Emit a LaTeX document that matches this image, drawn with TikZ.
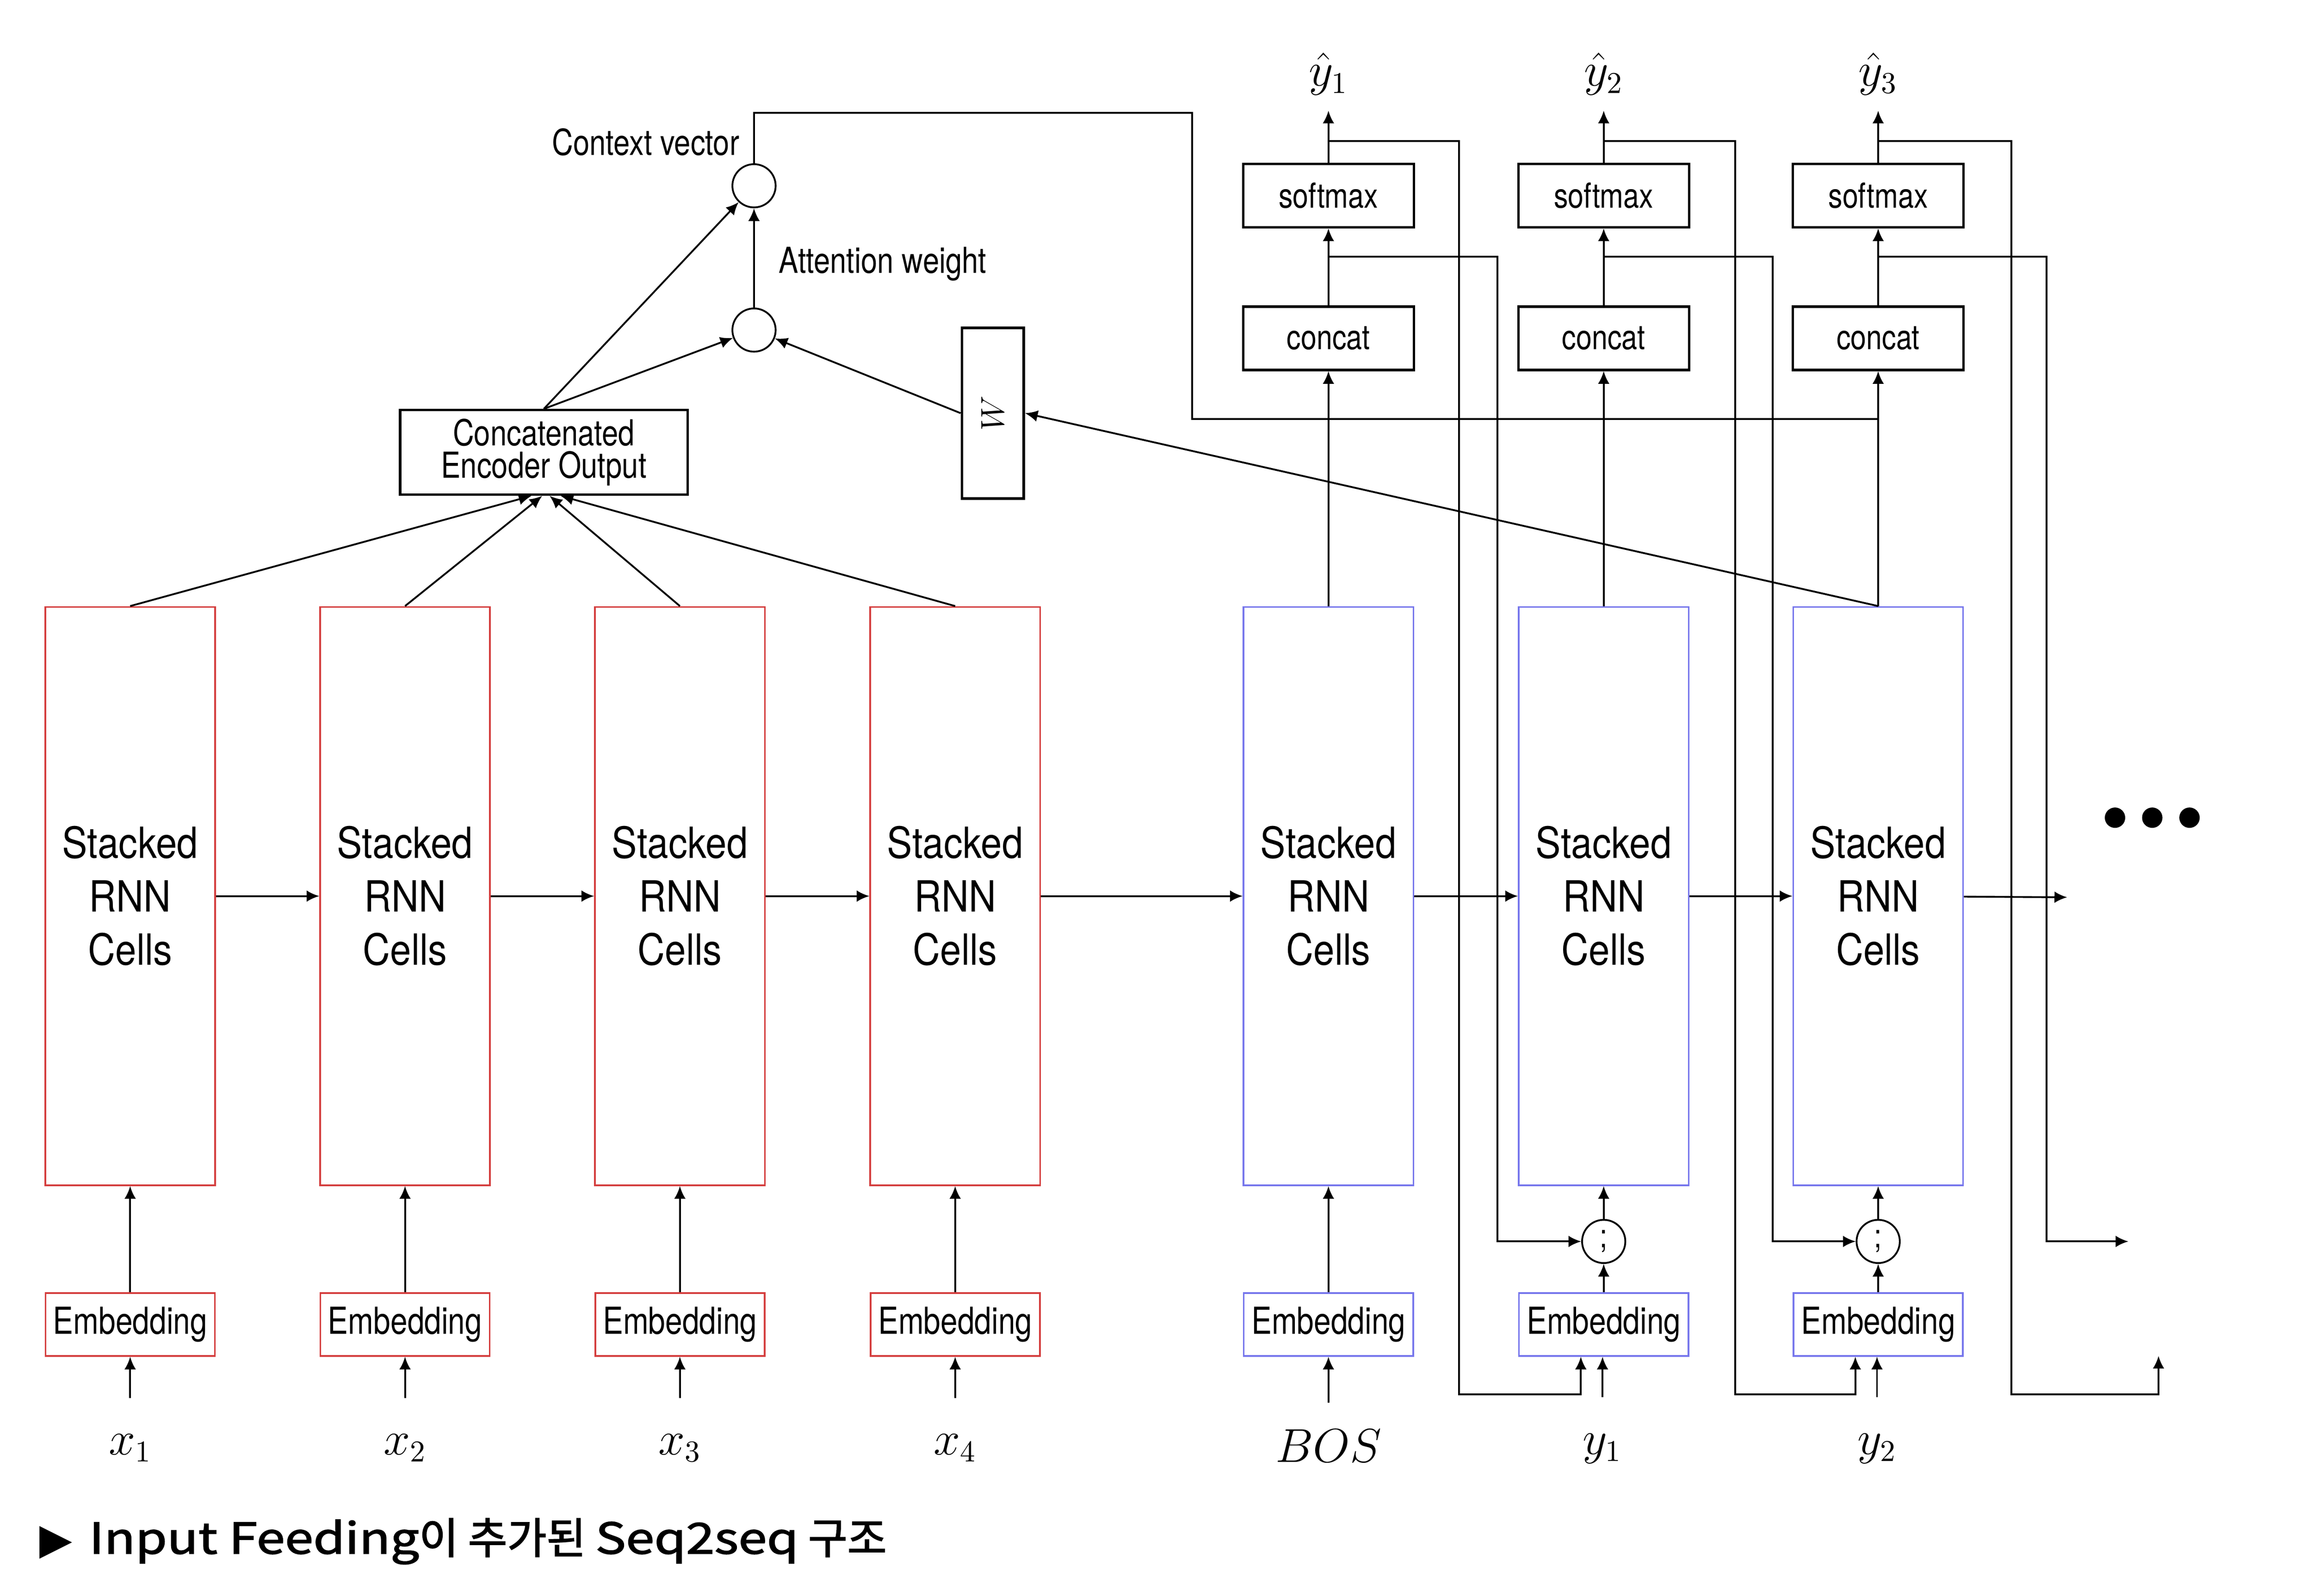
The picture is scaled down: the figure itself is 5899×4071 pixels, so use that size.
\documentclass[tikz,border=0pt]{standalone}
\usepackage{fontspec}
\setsansfont{TeX Gyre Heros}[FakeStretch=0.82]
\newfontfamily\cellfont{TeX Gyre Heros}[FakeStretch=0.88]
\newfontfamily\krfont{Noto Sans CJK KR}[FakeBold=2]
\newfontfamily\krlatin{Noto Sans CJK KR}[FakeStretch=1.2,FakeBold=2]
\newfontfamily\symfont{DejaVu Sans}
\usetikzlibrary{arrows.meta}
\definecolor{encred}{RGB}{212,62,62}
\definecolor{decblue}{RGB}{118,118,236}

\begin{document}
\begin{tikzpicture}
	[x=0.005cm,y=-0.005cm,
	arr/.style={-{Latex[length=4.6pt,width=4.2pt]},line width=0.65pt},
	cell/.style={draw,line width=0.6pt,minimum width=61.7pt,minimum height=210.1pt,inner sep=0pt,align=center,font={\cellfont\fontsize{15.6pt}{19.4pt}\selectfont}},
	emb/.style={draw,line width=0.6pt,minimum width=61.5pt,minimum height=22.8pt,inner sep=0pt,font={\sffamily\fontsize{13.5pt}{16pt}\selectfont}},
	blk/.style={draw,line width=0.9pt,minimum width=62pt,minimum height=23pt,inner sep=0pt,font={\sffamily\fontsize{12.5pt}{15pt}\selectfont}},
	dot/.style={draw,circle,line width=0.65pt,minimum size=15.7pt,inner sep=0pt},
	lbl/.style={inner sep=0pt,font={\sffamily\fontsize{13pt}{15pt}\selectfont}},
	var/.style={inner sep=0pt,font={\fontsize{16pt}{19pt}\selectfont}}]
	\useasboundingbox (0,0) rectangle (5899,4071);

	\foreach \i/\x in {1/332,2/1033,3/1734,4/2436}
	{
		\node[cell,draw=encred] (enc\i) at (\x,2286) {Stacked\\RNN\\Cells};
		\node[emb,draw=encred] (ee\i) at (\x,3379) {Embedding};
		\node[var,minimum height=36pt] (x\i) at (\x,3694) {$x_\i$};
		\draw[arr] (x\i) -- (ee\i);
		\draw[arr] (ee\i) -- (enc\i);
	}

	\foreach \i/\x in {1/3388,2/4090,3/4790}
	{
		\node[cell,draw=decblue] (dec\i) at (\x,2286) {Stacked\\RNN\\Cells};
		\node[emb,draw=decblue] (de\i) at (\x,3379) {Embedding};
		\node[blk] (cc\i) at (\x,863) {concat};
		\node[blk] (sm\i) at (\x,499) {softmax};
		\node[var,minimum height=26.2pt] (yh\i) at (\x,189) {$\hat{y}_\i$};
		\draw[arr] (dec\i) -- (cc\i);
		\draw[arr] (cc\i) -- (sm\i);
		\draw[arr] (sm\i) -- (yh\i);
		\coordinate (so\i) at (\x,360);
		\coordinate (co\i) at (\x,655);
	}

	\foreach \a/\b in {enc1/enc2,enc2/enc3,enc3/enc4,enc4/dec1,dec1/dec2,dec2/dec3}
		\draw[arr] (\a) -- (\b);
	\coordinate (rnnout) at (5272,2289);
	\draw[arr] (dec3) -- (rnnout);

	\node[draw,line width=0.9pt,minimum width=104.4pt,minimum height=30.7pt,inner sep=0pt,align=center,font={\sffamily\fontsize{13pt}{11.7pt}\selectfont}] (ceo) at (1387,1154) {Concatenated\\Encoder Output};
	\foreach \i/\s in {1/-4.5,2/-0.6,3/2.1,4/6.1}
		\draw[arr] (enc\i.north) -- ([xshift=\s pt]ceo.south);

	\node[dot] (att) at (1923,842) {};
	\node[dot] (ctx) at (1923,474) {};
	\node[draw,line width=0.9pt,minimum width=22.5pt,minimum height=62pt,inner sep=0pt] (wbox) at (2532,1054) {\rotatebox{90}{\fontsize{12pt}{14pt}\selectfont$W$}};
	\node[lbl,anchor=east] (ctxlbl) at (1887,362) {Context vector};
	\node[lbl,anchor=west] (attlbl) at (1985,673) {Attention weight};
	\draw[arr] (ceo.north) -- (att);
	\draw[arr] (ceo.north) -- (ctx);
	\draw[arr] (att) -- (ctx);
	\draw[arr] (wbox.west) -- (att);
	\draw[arr] (dec3.north) -- (wbox.east);
	\coordinate (ctxbend) at (3040,288);
	\coordinate (ctxjoin) at (4790,1069);
	\draw[line width=0.65pt] (ctx.north) |- (ctxbend) |- (ctxjoin);

	\node[var,minimum height=30.7pt] (bos) at (3388,3688) {$BOS$};
	\node[var,minimum height=37pt] (y1) at (4087,3695) {$y_1$};
	\node[var,minimum height=37pt] (y2) at (4787,3695) {$y_2$};
	\node[dot,font={\sffamily\fontsize{12pt}{14pt}\selectfont}] (sc2) at (4090,3167) {;};
	\node[dot,font={\sffamily\fontsize{12pt}{14pt}\selectfont}] (sc3) at (4790,3167) {;};
	\draw[arr] (bos) -- (de1);
	\draw[arr] (de1) -- (dec1);
	\draw[arr] (y1) -- (y1 |- de2.south);
	\draw[arr] (y2) -- (y2 |- de3.south);
	\draw[arr] (de2) -- (sc2);
	\draw[arr] (sc2) -- (dec2);
	\draw[arr] (de3) -- (sc3);
	\draw[arr] (sc3) -- (dec3);

	\coordinate (fb3) at (5505,3459);
	\coordinate (fc3) at (5428,3167);
	\draw[arr] (so1) -| (3721,3557) -| ([xshift=-8.3pt]de2.south);
	\draw[arr] (so2) -| (4425,3557) -| ([xshift=-8.3pt]de3.south);
	\draw[arr] (so3) -| (5130,3557) -| (fb3);
	\draw[arr] (co1) -| (3819,3167) -- (sc2);
	\draw[arr] (co2) -| (4521,3167) -- (sc3);
	\draw[arr] (co3) -| (5219,3167) -- (fc3);

	\foreach \d in {5394,5489,5584}
		\fill (\d,2086) circle (3.7pt);

	\node[anchor=west,inner sep=0pt,font={\krfont\fontsize{15.5pt}{18pt}\selectfont}] (caption) at (100,3932) {{\symfont ▶}\hspace{6pt}{\krlatin Input Feeding}이 추가된 {\krlatin Seq2seq} 구조};
\end{tikzpicture}
\end{document}
